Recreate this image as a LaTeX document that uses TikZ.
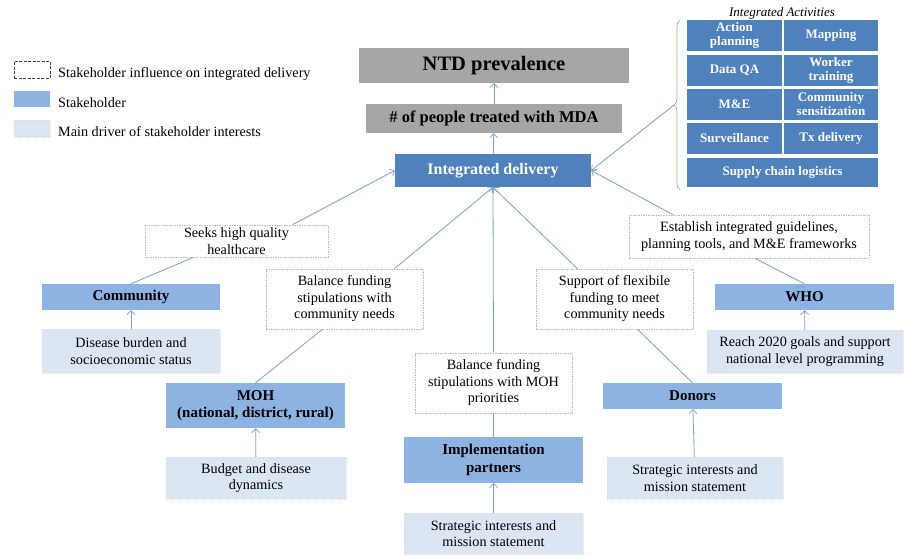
\documentclass[tikz,border=0pt]{standalone}
\usepackage{fontspec}
\setmainfont{Liberation Serif}
\usetikzlibrary{arrows.meta,decorations.pathreplacing}
\definecolor{delivblue}{HTML}{4F81BD}
\definecolor{stakeblue}{HTML}{8DB3E2}
\definecolor{drvblue}{HTML}{DCE6F2}
\definecolor{outgray}{HTML}{A6A6A6}
\definecolor{linecol}{HTML}{7F9CC2}
\newcommand\bx[7]{\node[#2, minimum width={(#5-#3)*1pt}, minimum height={(#6-#4)*1pt}] (#1) at ({(#3+#5)/2},{(#4+#6)/2}) {#7};}
\begin{document}
\begin{tikzpicture}[x=1pt,y=-1pt,
  basebox/.style={inner sep=0pt, align=center},
  txt/.style={font=\fontsize{14.2}{16.5}\selectfont},
  infl/.style={basebox, txt, draw=gray!55, fill=white, dash pattern=on 1.5pt off 1pt, line width=0.6pt},
  infllg/.style={basebox, draw=black!75, dash pattern=on 3pt off 1.5pt, line width=0.8pt},
  stake/.style={basebox, fill=stakeblue, font=\bfseries\fontsize{15}{17.5}\selectfont},
  driver/.style={basebox, txt, fill=drvblue, draw=gray!25, dash pattern=on 1pt off 1pt},
  outcome/.style={basebox, fill=outgray},
  delivst/.style={basebox, fill=delivblue, text=white, font=\bfseries\fontsize{16}{19}\selectfont},
  act/.style={basebox, fill=delivblue, text=white, font=\bfseries\fontsize{13}{14}\selectfont},
  lgtext/.style={txt, anchor=west, inner sep=0pt},
  conn/.style={draw=linecol, line width=0.8pt},
  arr/.style={conn, -{Straight Barb[length=4pt,width=8pt,line width=0.7pt]}},
  bracest/.style={draw=gray!70, line width=0.7pt, decorate, decoration={brace, amplitude=6pt}}
]
\useasboundingbox (0,0) rectangle (906,555);
% legend
\bx{lg1}{infllg}{14}{61}{50}{78}{}
\bx{lg2}{stake}{14}{91}{50}{107}{}
\bx{lg3}{driver}{14}{120}{50}{137}{}
\node[lgtext] (lt1) at (58,74) {Stakeholder influence on integrated delivery};
\node[lgtext] (lt2) at (58,103) {Stakeholder};
\node[lgtext] (lt3) at (58,132) {Main driver of stakeholder interests};
% outcomes
\bx{ntd}{outcome, font=\bfseries\fontsize{20.5}{24}\selectfont}{359}{48}{629}{83}{NTD prevalence}
\bx{mda}{outcome, font=\bfseries\fontsize{16.5}{19}\selectfont}{366}{104}{622}{133}{\# of people treated with MDA}
\bx{deliv}{delivst}{395}{154}{591}{187}{Integrated delivery}
\draw[arr] (mda) -- (ntd);
\draw[arr] (deliv) -- (mda);
% integrated activities
\node[font=\itshape\fontsize{13}{15}\selectfont, inner sep=0pt] (ttl) at (782,13) {Integrated Activities};
\bx{a1}{act}{687}{20}{782}{51}{Action\\planning}
\bx{a2}{act}{784}{20}{878}{51}{Mapping}
\bx{a3}{act}{687}{55}{782}{86}{Data QA}
\bx{a4}{act}{784}{55}{878}{86}{Worker\\training}
\bx{a5}{act}{687}{89}{782}{120}{M\&E}
\bx{a6}{act}{784}{89}{878}{120}{Community\\sensitization}
\bx{a7}{act}{687}{123}{782}{154}{Surveillance}
\bx{a8}{act}{784}{123}{878}{154}{Tx delivery}
\bx{a9}{act}{687}{158}{878}{187}{Supply chain logistics}
\draw[bracest] (680,190) -- (680,20);
\coordinate (btip) at (674,105);
\draw[arr] (btip) -- (deliv.east);
% Community
\bx{seeks}{infl}{145}{225}{328}{257}{Seeks high quality\\healthcare}
\bx{comm}{stake}{42}{284}{220}{310}{Community}
\bx{dis}{driver}{42}{329}{220}{373}{Disease burden and\\socioeconomic status}
\draw[arr] ([xshift=56]seeks.north) -- (deliv.west);
\draw[conn] ([xshift=-43]seeks.south) -- (comm.north);
\draw[arr] (dis) -- (comm);
% MOH
\bx{balc}{infl}{266}{269}{423}{329}{Balance funding\\stipulations with\\community needs}
\bx{moh}{stake}{166}{383}{345}{428}{MOH\\(national, district, rural)}
\bx{bud}{driver}{166}{457}{346}{499}{Budget and disease\\dynamics}
\draw[arr] ([xshift=50]balc.north) -- (deliv.south);
\draw[conn] ([xshift=-22]balc.south) -- (moh.north);
\draw[arr] (bud) -- (moh);
% Implementation partners
\bx{balm}{infl}{415}{353}{572}{413}{Balance funding\\stipulations with MOH\\priorities}
\bx{impl}{stake}{404}{437}{583}{483}{Implementation\\partners}
\bx{strat1}{driver}{404}{513}{583}{554}{Strategic interests and\\mission statement}
\draw[arr] (balm.north) -- (deliv.south);
\draw[conn] (balm.south) -- (impl.north);
\draw[arr] (strat1) -- (impl);
% Donors
\bx{supp}{infl}{536}{269}{693}{329}{Support of flexibile\\funding to meet\\community needs}
\bx{don}{stake}{603}{383}{782}{409}{Donors}
\bx{strat2}{driver}{607}{457}{783}{499}{Strategic interests and\\mission statement}
\draw[arr] ([xshift=-37]supp.north) -- (deliv.south);
\draw[conn] ([xshift=23]supp.south) -- (don.north);
\draw[arr] (strat2) -- (don);
% WHO
\bx{est}{infl}{629}{215}{869}{258}{Establish integrated guidelines,\\planning tools, and M\&E frameworks}
\bx{who}{stake}{715}{284}{894}{310}{WHO}
\bx{reach}{driver}{707}{330}{903}{373}{Reach 2020 goals and support\\national level programming}
\draw[arr] ([xshift=-76]est.north) -- (deliv.east);
\draw[conn] ([xshift=6]est.south) -- (who.north);
\draw[arr] (reach) -- (who);
\end{tikzpicture}
\end{document}
